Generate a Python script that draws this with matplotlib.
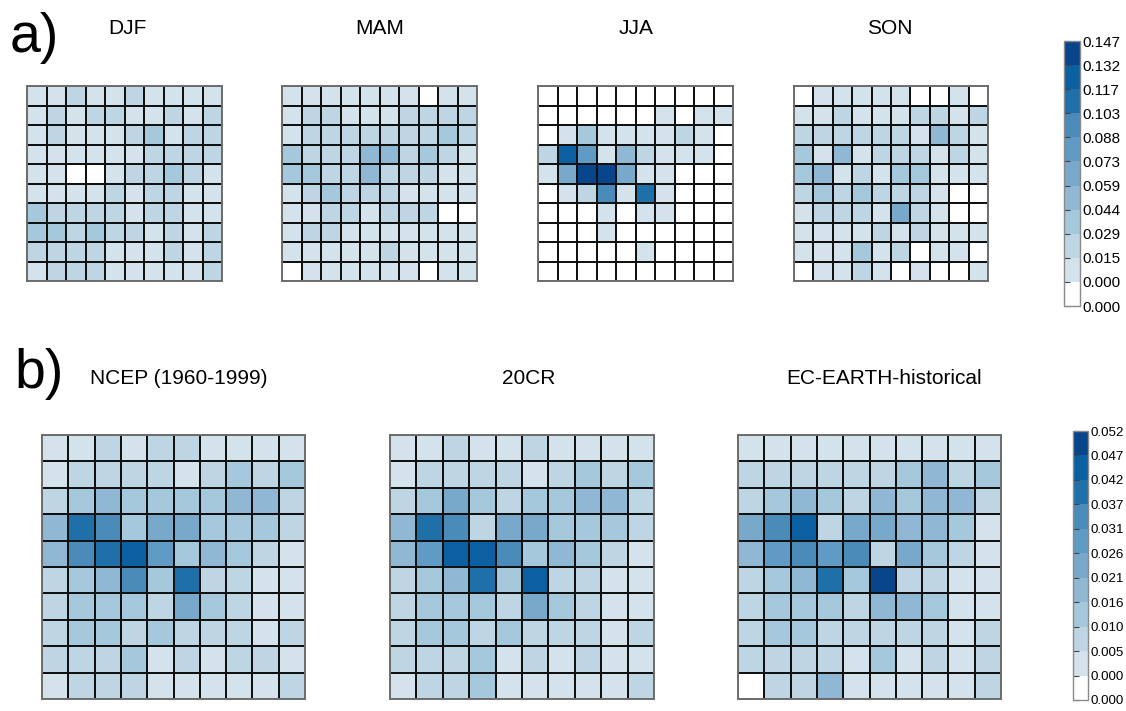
import numpy as np
import matplotlib
matplotlib.use("Agg")
import matplotlib.pyplot as plt
from matplotlib.colors import ListedColormap, BoundaryNorm
from matplotlib.cm import ScalarMappable

plt.rcParams["font.family"] = ["Liberation Sans", "DejaVu Sans"]

# ---------------------------------------------------------------------------
# Node frequencies on the 10x10 map (row 0 = top row of the map)
# a) seasonal frequencies, values in units of 1e-3
# ---------------------------------------------------------------------------
season_titles = ["DJF", "MAM", "JJA", "SON"]

djf = [
    [7, 7, 22, 7, 7, 22, 7, 7, 7, 7],
    [7, 22, 7, 22, 22, 7, 7, 22, 7, 22],
    [7, 22, 7, 7, 7, 22, 37, 7, 22, 22],
    [7, 7, 7, 7, 7, 7, 22, 22, 22, 22],
    [7, 7, 0, 0, 7, 22, 22, 37, 22, 7],
    [7, 7, 7, 7, 22, 7, 22, 22, 7, 7],
    [37, 22, 22, 22, 22, 7, 22, 22, 7, 7],
    [37, 37, 22, 37, 22, 22, 7, 22, 7, 22],
    [22, 22, 22, 22, 7, 7, 7, 22, 7, 22],
    [7, 22, 22, 22, 7, 7, 7, 7, 7, 22],
]

mam = [
    [7, 7, 7, 7, 7, 7, 7, 0, 7, 7],
    [7, 22, 22, 7, 7, 7, 22, 22, 22, 22],
    [7, 22, 22, 22, 22, 22, 22, 22, 37, 22],
    [37, 22, 22, 22, 51, 51, 22, 37, 22, 7],
    [37, 37, 22, 22, 51, 22, 22, 22, 7, 7],
    [7, 22, 37, 22, 22, 22, 7, 7, 7, 7],
    [7, 7, 22, 22, 7, 22, 22, 22, 0, 0],
    [7, 22, 22, 7, 7, 7, 7, 7, 7, 7],
    [7, 7, 7, 7, 7, 22, 7, 7, 7, 7],
    [0, 7, 7, 7, 7, 7, 7, 0, 7, 7],
]

jja = [
    [0, 0, 0, 0, 0, 0, 0, 0, 0, 0],
    [0, 0, 0, 0, 0, 0, 7, 0, 7, 7],
    [0, 7, 37, 7, 7, 7, 7, 22, 7, 0],
    [22, 125, 81, 7, 51, 22, 7, 7, 7, 0],
    [7, 66, 139, 139, 66, 7, 7, 0, 0, 0],
    [0, 7, 22, 95, 7, 110, 7, 0, 0, 0],
    [0, 0, 0, 7, 0, 7, 7, 0, 0, 0],
    [0, 0, 0, 7, 0, 0, 0, 0, 0, 0],
    [0, 0, 0, 0, 0, 7, 0, 0, 0, 0],
    [0, 0, 0, 0, 0, 0, 0, 0, 0, 0],
]

son = [
    [0, 7, 7, 7, 7, 7, 0, 0, 7, 0],
    [7, 7, 22, 7, 7, 7, 22, 22, 7, 22],
    [22, 22, 22, 22, 22, 22, 7, 51, 22, 7],
    [37, 7, 51, 7, 22, 22, 22, 7, 22, 7],
    [37, 51, 7, 22, 7, 37, 37, 7, 7, 7],
    [22, 37, 22, 37, 22, 22, 22, 7, 0, 0],
    [7, 22, 22, 22, 7, 66, 22, 7, 0, 0],
    [7, 7, 7, 7, 22, 7, 22, 7, 7, 7],
    [7, 7, 7, 37, 7, 22, 0, 7, 7, 0],
    [0, 7, 7, 22, 7, 0, 7, 0, 0, 7],
]

# ---------------------------------------------------------------------------
# b) frequencies for the different datasets, values in units of 1e-4
# ---------------------------------------------------------------------------
dataset_titles = ["NCEP (1960-1999)", "20CR", "EC-EARTH-historical"]

ncep = [
    [26, 26, 79, 26, 79, 79, 26, 26, 26, 26],
    [26, 79, 79, 79, 79, 26, 79, 131, 79, 131],
    [79, 131, 183, 131, 131, 131, 131, 183, 183, 79],
    [183, 393, 341, 131, 236, 236, 131, 131, 131, 79],
    [183, 341, 393, 445, 288, 131, 183, 131, 79, 26],
    [79, 131, 183, 341, 131, 393, 79, 79, 26, 26],
    [79, 131, 131, 131, 79, 236, 131, 79, 26, 26],
    [79, 131, 131, 79, 131, 79, 79, 79, 26, 79],
    [79, 79, 79, 131, 26, 79, 26, 79, 79, 26],
    [26, 79, 79, 79, 26, 26, 26, 26, 26, 79],
]

cr20 = [
    [26, 26, 79, 26, 26, 79, 26, 26, 26, 26],
    [26, 79, 79, 79, 79, 26, 79, 131, 79, 131],
    [79, 131, 236, 131, 79, 131, 131, 183, 183, 79],
    [183, 393, 341, 79, 236, 236, 131, 131, 131, 79],
    [183, 288, 445, 445, 341, 131, 183, 131, 79, 26],
    [79, 131, 183, 393, 131, 445, 79, 79, 26, 26],
    [79, 131, 131, 131, 79, 236, 131, 79, 26, 26],
    [79, 131, 131, 79, 131, 79, 79, 79, 26, 79],
    [79, 79, 79, 131, 26, 79, 26, 79, 26, 26],
    [26, 79, 79, 131, 26, 26, 26, 26, 26, 79],
]

ecearth = [
    [26, 26, 26, 26, 26, 26, 26, 26, 26, 26],
    [79, 79, 79, 79, 79, 79, 131, 183, 79, 131],
    [79, 131, 183, 131, 79, 183, 131, 183, 183, 79],
    [236, 341, 445, 79, 236, 236, 183, 183, 131, 26],
    [183, 288, 341, 288, 341, 79, 236, 131, 79, 26],
    [79, 131, 183, 393, 131, 498, 79, 79, 26, 26],
    [79, 131, 131, 131, 79, 183, 183, 131, 26, 26],
    [79, 131, 131, 79, 79, 79, 79, 79, 26, 79],
    [79, 79, 79, 79, 26, 131, 26, 79, 26, 79],
    [0, 79, 79, 183, 26, 26, 26, 26, 26, 79],
]

# colour scale: white for exactly zero, then ten blue classes
level_colors = ["#ffffff", "#d4e2ec", "#bed6e4", "#a6c8dc", "#90b8d4",
                "#78a9cb", "#5f9bc4", "#4a8bb9", "#1f6fa8", "#0a60a0",
                "#08458a"]
A_MAX = 0.1466
B_MAX = 0.0524

W, H = 1126, 711
fig = plt.figure(figsize=(W / 100, H / 100), dpi=100)


def px_axes(x0, y0, x1, y1):
    return fig.add_axes([x0 / W, 1 - y1 / H, (x1 - x0) / W, (y1 - y0) / H])


def make_scale(vmax):
    bounds = np.concatenate([[0.0, 1e-9], np.linspace(vmax / 10, vmax, 10)])
    cmap = ListedColormap(level_colors)
    return bounds, cmap, BoundaryNorm(bounds, cmap.N)


def draw_grid(ax, values, cmap, norm):
    data = np.asarray(values, dtype=float)
    ax.pcolormesh(data, cmap=cmap, norm=norm, edgecolors="#111111",
                  linewidth=1.1)
    ax.set_xlim(0, data.shape[1])
    ax.set_ylim(data.shape[0], 0)
    ax.set_xticks([])
    ax.set_yticks([])
    for sp in ax.spines.values():
        sp.set_color("#6e6e6e")
        sp.set_linewidth(1.4)


def draw_colorbar(cax, bounds, cmap, norm, labelsize):
    cb = fig.colorbar(ScalarMappable(norm=norm, cmap=cmap), cax=cax,
                      boundaries=bounds, ticks=bounds, spacing="uniform")
    cb.minorticks_off()
    cax.set_yticklabels([f"{b:.3f}" for b in bounds])
    cax.tick_params(axis="y", left=True, right=False, labelleft=False,
                    labelright=True, direction="in", length=4, width=0.8,
                    color="#444444", labelsize=labelsize, pad=1.5)
    cb.outline.set_edgecolor("#8a8a8a")
    cb.outline.set_linewidth(1.0)


# ---------------------------------------------------------------------------
# Row a: seasons
# ---------------------------------------------------------------------------
bounds_a, cmap_a, norm_a = make_scale(A_MAX)
season_grids = [np.asarray(g) / 1e3 for g in (djf, mam, jja, son)]
season_x = [(27, 222), (282, 477), (538, 733), (794, 988)]
season_title_x = [127, 380, 636, 890]
for grid, (x0, x1), tx, title in zip(season_grids, season_x,
                                      season_title_x, season_titles):
    ax = px_axes(x0, 86, x1, 281)
    draw_grid(ax, grid, cmap_a, norm_a)
    fig.text(tx / W, 1 - 34.5 / H, title, ha="center", va="baseline",
             fontsize=15)

draw_colorbar(px_axes(1064, 41, 1080, 306), bounds_a, cmap_a, norm_a, 11)
fig.text(10 / W, 1 - 38 / H, "a)", ha="left", va="center", fontsize=40)

# ---------------------------------------------------------------------------
# Row b: datasets
# ---------------------------------------------------------------------------
bounds_b, cmap_b, norm_b = make_scale(B_MAX)
dataset_grids = [np.asarray(g) / 1e4 for g in (ncep, cr20, ecearth)]
dataset_x = [(42, 305), (390, 654), (738, 1001)]
dataset_title_x = [179, 529, 884]
for grid, (x0, x1), tx, title in zip(dataset_grids, dataset_x,
                                      dataset_title_x, dataset_titles):
    ax = px_axes(x0, 435, x1, 699)
    draw_grid(ax, grid, cmap_b, norm_b)
    fig.text(tx / W, 1 - 384.5 / H, title, ha="center", va="baseline",
             fontsize=15)

draw_colorbar(px_axes(1073, 431, 1088, 700), bounds_b, cmap_b, norm_b, 9.6)
fig.text(14 / W, 1 - 374 / H, "b)", ha="left", va="center", fontsize=40)

fig.savefig("out.png", dpi=100)
